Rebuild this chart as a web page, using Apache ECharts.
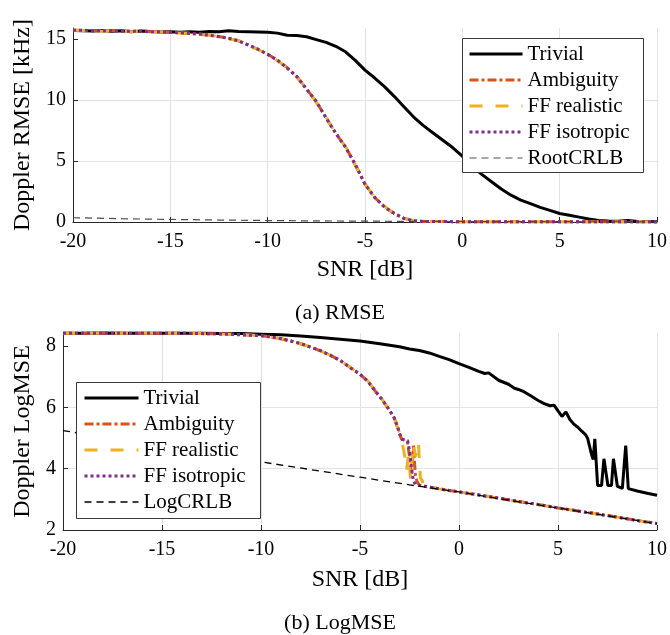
<!DOCTYPE html>
<html><head><meta charset="utf-8">
<script src="https://cdn.jsdelivr.net/npm/echarts@6/dist/echarts.min.js"></script>
<style>html,body{margin:0;padding:0;background:#fff}#c{width:670px;height:635px}</style>
</head><body><div id="c"></div>
<script>
// ---------- (a) RMSE data ----------
const snrTop = [-20,-19.5,-19,-18.5,-18,-17.5,-17,-16.5,-16,-15.5,-15,-14.5,-14,-13.5,-13,-12.5,-12,-11.5,-11,-10.5,-10,-9.5,-9,-8.5,-8,-7.5,-7,-6.5,-6,-5.5,-5,-4.5,-4,-3.5,-3,-2.5,-2,-1.5,-1,-0.5,0,0.5,1,1.5,2,2.5,3,3.5,4,4.5,5,5.5,6,6.5,7,7.5,8,8.5,9,9.5,10];
const trivialRmse = [15.70,15.68,15.66,15.70,15.64,15.68,15.60,15.66,15.62,15.58,
  15.60,15.55,15.60,15.56,15.62,15.60,15.68,15.62,15.60,15.58,
  15.55,15.48,15.30,15.28,15.18,14.95,14.72,14.40,13.95,13.25,
  12.45,11.80,11.10,10.30,9.45,8.60,7.90,7.30,6.70,6.10,
  5.40,4.55,3.90,3.30,2.70,2.20,1.80,1.50,1.20,0.95,
  0.70,0.55,0.40,0.25,0.13,0.09,0.07,0.12,0.05,0.04,0.03];
const ambiguityRmse = [15.72,15.70,15.68,15.66,15.70,15.65,15.62,15.64,15.60,15.58,
  15.55,15.50,15.45,15.40,15.32,15.20,15.05,14.85,14.50,14.15,
  13.75,13.25,12.65,11.90,10.90,9.85,8.55,7.25,6.15,4.70,
  3.10,2.00,1.25,0.70,0.30,0.10,0.05,0.04,0.04,0.03,
  0.03,0.03,0.03,0.03,0.03,0.03,0.03,0.03,0.03,0.03,
  0.03,0.03,0.03,0.03,0.03,0.03,0.03,0.03,0.03,0.03,0.03];
const realisticRmse = [15.74,15.69,15.70,15.64,15.71,15.66,15.60,15.65,15.61,15.57,
  15.56,15.48,15.46,15.38,15.30,15.22,15.02,14.88,14.48,14.12,
  13.78,13.22,12.68,11.85,10.95,9.80,8.60,7.20,6.20,4.65,
  3.15,1.95,1.30,0.68,0.32,0.11,0.05,0.04,0.04,0.03,
  0.03,0.03,0.03,0.03,0.03,0.03,0.03,0.03,0.03,0.03,
  0.03,0.03,0.03,0.03,0.03,0.03,0.03,0.03,0.03,0.03,0.03];
const isotropicRmse = [15.71,15.72,15.67,15.67,15.69,15.64,15.63,15.63,15.59,15.59,
  15.54,15.51,15.44,15.41,15.31,15.19,15.06,14.84,14.52,14.16,
  13.74,13.27,12.62,11.92,10.88,9.87,8.52,7.28,6.12,4.72,
  3.08,2.02,1.22,0.72,0.29,0.10,0.05,0.04,0.04,0.03,
  0.03,0.03,0.03,0.03,0.03,0.03,0.03,0.03,0.03,0.03,
  0.03,0.03,0.03,0.03,0.03,0.03,0.03,0.03,0.03,0.03,0.03];
const snrCrlb = [-20,-17.5,-15,-12.5,-10,-7.5,-5,-2.5,0,2.5,5,7.5,10];
const rootCrlb = [0.35,0.27,0.21,0.16,0.12,0.09,0.07,0.05,0.04,0.03,0.025,0.02,0.015];

// ---------- (b) LogMSE data ----------
const snrTrivialLog = [-20,-19,-18,-17,-16,-15,-14,-13,-12,-11,-10,-9,-8,-7,-6,-5,-4,-3,-2.5,-2,-1.5,-1,-0.5,0,0.5,1,1.3,1.5,2,2.5,2.8,3,3.3,3.6,4,4.3,4.6,4.8,5,5.2,5.4,5.6,5.8,6,6.2,6.4,6.5,6.6,6.7,6.78,6.86,7.0,7.2,7.32,7.42,7.52,7.7,7.8,7.9,8.0,8.25,8.42,8.55,9,9.5,10];
const trivialLog = [8.41,8.41,8.42,8.41,8.41,8.41,8.41,8.41,8.40,8.40,8.38,8.36,8.32,8.27,8.22,8.16,8.07,7.97,7.90,7.85,7.77,7.66,7.55,7.42,7.30,7.17,7.10,7.12,6.88,6.75,6.62,6.58,6.50,6.38,6.22,6.12,6.05,6.07,5.88,5.70,5.85,5.60,5.45,5.35,5.22,5.10,4.98,4.92,4.45,4.30,4.97,3.45,3.45,4.32,4.32,3.45,3.45,4.32,4.32,3.42,3.36,4.75,3.35,3.27,3.20,3.13];
const snrAmbiguityLog = [-20,-18,-16,-14,-13,-12,-11,-10,-9.5,-9,-8.5,-8,-7.5,-7,-6.5,-6,-5.5,-5,-4.6,-4.2,-3.9,-3.6,-3.3,-3.1,-3.0,-2.9,-2.7,-2.6,-2.5,-2.4,-2.3,-2.2,-2.1,-2.0,-1.5,-1,0,1,2,3,4,5,6,7,8,9,10];
const ambiguityLog = [8.41,8.41,8.41,8.41,8.40,8.39,8.37,8.33,8.29,8.23,8.16,8.07,7.96,7.84,7.70,7.52,7.30,7.07,6.85,6.50,6.27,5.98,5.70,5.35,5.15,4.96,4.92,4.85,4.40,3.80,4.75,3.75,3.55,3.46,3.40,3.34,3.24,3.14,3.04,2.93,2.83,2.72,2.62,2.52,2.42,2.31,2.21];
const snrRealisticLog = [-20,-18,-16,-14,-13,-12,-11,-10,-9.5,-9,-8.5,-8,-7.5,-7,-6.5,-6,-5.5,-5,-4.6,-4.2,-3.9,-3.6,-3.3,-3.1,-3.0,-2.9,-2.8,-2.75,-2.65,-2.55,-2.45,-2.3,-2.2,-2.05,-1.95,-1.85,-1.8,-1.5,-1,0,1,2,3,4,5,6,7,8,9,10];
const realisticLog = [8.41,8.41,8.41,8.41,8.40,8.39,8.37,8.33,8.28,8.23,8.17,8.06,7.97,7.83,7.71,7.51,7.31,7.06,6.86,6.49,6.28,5.97,5.72,5.33,5.16,4.95,4.92,4.45,3.95,4.45,3.65,4.80,4.40,4.85,3.70,3.60,3.45,3.40,3.34,3.24,3.14,3.04,2.93,2.83,2.72,2.62,2.52,2.42,2.31,2.21];
const snrIsotropicLog = [-20,-18,-16,-14,-13,-12,-11,-10,-9.5,-9,-8.5,-8,-7.5,-7,-6.5,-6,-5.5,-5,-4.6,-4.2,-3.9,-3.6,-3.3,-3.1,-3.0,-2.9,-2.6,-2.5,-2.4,-2.3,-2.2,-2.0,-1.5,-1,0,1,2,3,4,5,6,7,8,9,10];
const isotropicLog = [8.41,8.41,8.41,8.41,8.40,8.39,8.36,8.33,8.29,8.24,8.16,8.08,7.96,7.85,7.69,7.53,7.29,7.08,6.84,6.51,6.26,5.99,5.69,5.36,5.14,4.96,4.92,4.60,4.00,3.60,3.48,3.45,3.40,3.34,3.24,3.14,3.04,2.93,2.83,2.72,2.62,2.52,2.42,2.31,2.21];
const logCrlb = [5.24,4.98,4.73,4.48,4.22,3.97,3.72,3.47,3.24,2.97,2.72,2.46,2.21];

// ---------- ticks / labels ----------
const yTicksTop = [0,5,10,15];
const yTicksBottom = [2,4,6,8];
const legendTop = ['Trivial','Ambiguity','FF realistic','FF isotropic','RootCRLB'];
const legendBottom = ['Trivial','Ambiguity','FF realistic','FF isotropic','LogCRLB'];

const FONT = '"Liberation Serif", "Times New Roman", serif';
const COL = {triv:'#000000', amb:'#D95319', real:'#EDB120', iso:'#7E2F8E'};
const STYLE = {
  'Trivial':{color:COL.triv, width:3, type:'solid'},
  'Ambiguity':{color:COL.amb, width:3, type:[9,3,3,3]},
  'FF realistic':{color:COL.real, width:3, type:[13,13]},
  'FF isotropic':{color:COL.iso, width:3, type:[3,3]},
  'RootCRLB':{color:'#4d4d4d', width:1.2, type:[7,5]},
  'LogCRLB':{color:'#000', width:1.3, type:[7,5]}
};
function pairs(xs, ys){ return xs.map((x,i)=>[x, ys[i]]); }

function xAxisCfg(gi, gap){
  return {type:'value', gridIndex:gi, min:-20, max:10, interval:5,
    name:'SNR [dB]', nameLocation:'middle', nameGap:gap,
    nameTextStyle:{fontFamily:FONT, fontSize:24, color:'#000'},
    axisLine:{onZero:false, lineStyle:{color:'#262626', width:1}},
    axisTick:{inside:true, length:5, lineStyle:{color:'#262626'}},
    axisLabel:{fontFamily:FONT, fontSize:20, color:'#000', margin:10},
    splitLine:{show:true, lineStyle:{color:'#e3e3e3', width:1}}};
}
function yAxisCfg(gi, min, max, iv, ticks, name, gap){
  return {type:'value', gridIndex:gi, min:min, max:max, interval:iv,
    name:name, nameLocation:'middle', nameGap:gap,
    nameTextStyle:{fontFamily:FONT, fontSize:24, color:'#000'},
    axisLine:{show:true, onZero:false, lineStyle:{color:'#262626', width:1}},
    axisTick:{show:true, inside:true, length:5, customValues:ticks, lineStyle:{color:'#262626'}},
    axisLabel:{fontFamily:FONT, fontSize:20, color:'#000', margin:7, customValues:ticks},
    splitLine:{show:true, showMaxLine:false, lineStyle:{color:'#e3e3e3', width:1}}};
}
function ser(name, gi, data){
  const s = STYLE[name];
  return {name:name, type:'line', xAxisIndex:gi, yAxisIndex:gi, data:data,
    symbol:'none', clip:false, animation:false, z:2,
    lineStyle:{color:s.color, width:s.width, type:s.type, cap:'butt'},
    itemStyle:{color:s.color}};
}
function legendCfg(names, left, top, w){
  return {data:names.map(n=>({name:n, lineStyle:{width:STYLE[n].width, type:STYLE[n].type, color:STYLE[n].color}})),
    orient:'vertical', left:left, top:top, itemWidth:w, itemHeight:14, itemGap:0,
    selectedMode:false, padding:0, z:30,
    itemStyle:{opacity:0},
    textStyle:{fontFamily:FONT, fontSize:21, lineHeight:26, color:'#000'}};
}

const chart = echarts.init(document.getElementById('c'), null, {renderer:'canvas'});
chart.setOption({
  animation:false,
  backgroundColor:'#fff',
  grid:[{left:73, top:28, width:586, height:194},
        {left:63, top:333, width:594, height:197}],
  xAxis:[xAxisCfg(0, 36), xAxisCfg(1, 38)],
  yAxis:[yAxisCfg(0, 0, 15.9, 5, yTicksTop, 'Doppler RMSE [kHz]', 34),
         yAxisCfg(1, 2, 8.42, 2, yTicksBottom, 'Doppler LogMSE', 27)],
  legend:[legendCfg(legendTop, 468, 41, 53), legendCfg(legendBottom, 83, 385, 54)],
  series:[
    ser('Trivial', 0, pairs(snrTop, trivialRmse)),
    ser('Ambiguity', 0, pairs(snrTop, ambiguityRmse)),
    ser('FF realistic', 0, pairs(snrTop, realisticRmse)),
    ser('FF isotropic', 0, pairs(snrTop, isotropicRmse)),
    ser('RootCRLB', 0, pairs(snrCrlb, rootCrlb)),
    ser('Trivial', 1, pairs(snrTrivialLog, trivialLog)),
    ser('Ambiguity', 1, pairs(snrAmbiguityLog, ambiguityLog)),
    ser('FF realistic', 1, pairs(snrRealisticLog, realisticLog)),
    ser('FF isotropic', 1, pairs(snrIsotropicLog, isotropicLog)),
    ser('LogCRLB', 1, pairs(snrCrlb, logCrlb))
  ],
  graphic:{elements:[
    {type:'rect', z:20, zlevel:0, shape:{x:462.5, y:38.5, width:181, height:134}, style:{fill:'#fff', stroke:'#3a3a3a', lineWidth:1}},
    {type:'rect', z:20, zlevel:0, shape:{x:76.5, y:382.5, width:184, height:136}, style:{fill:'#fff', stroke:'#3a3a3a', lineWidth:1}},
    {type:'text', z:20, x:340, y:313, style:{text:'(a) RMSE', fontFamily:FONT, fontSize:22, align:'center', verticalAlign:'middle', fill:'#000'}},
    {type:'text', z:20, x:340, y:623, style:{text:'(b) LogMSE', fontFamily:FONT, fontSize:22, align:'center', verticalAlign:'middle', fill:'#000'}}
  ]}
});
</script></body></html>
